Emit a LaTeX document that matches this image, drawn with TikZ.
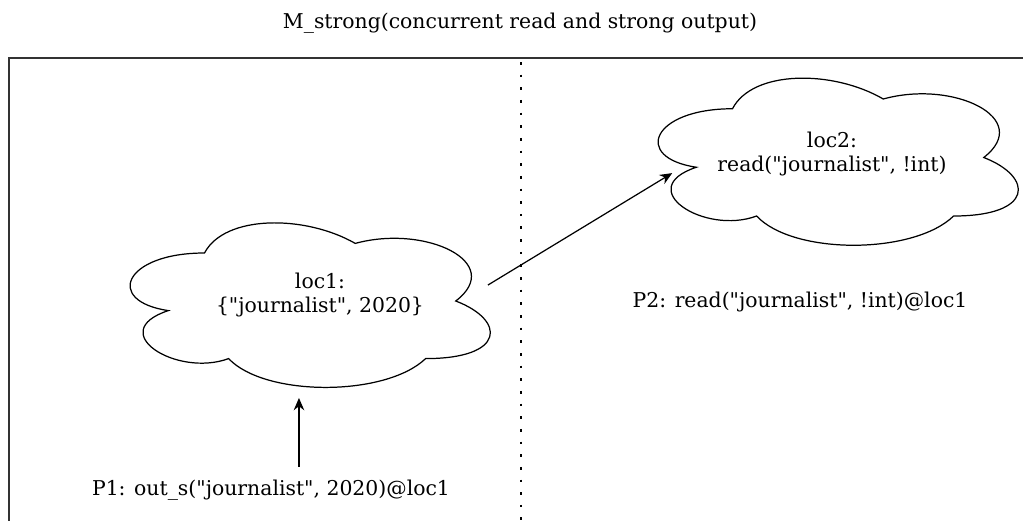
\documentclass[tikz,border=0pt]{standalone}
\usepackage{fontspec}
\setmainfont{DejaVu Serif}
\usetikzlibrary{arrows.meta}
\newcommand{\qt}{\textquotedbl}

\tikzset{
  cloudy/.pic={
    \draw[line width=0.7pt] (0.25,0.25) .. controls (0.05,0.25) and (0,0.5) .. (0.16,0.55)
      .. controls (0,0.66) and (0.18,0.9) .. (0.31,0.8)
      .. controls (0.4,1) and (0.7,1) .. (0.8,0.8)
      .. controls (1,0.8) and (1,0.6) .. (0.875,0.5)
      .. controls (1,0.3) and (0.8,0.1) .. (0.625,0.2)
      .. controls (0.5,0.05) and (0.3,0.05) .. (0.25,0.25) -- cycle;
    \coordinate (-out) at (0.955,0.417);
    \coordinate (-in) at (0.10,0.58);
    \coordinate (-foot) at (0.485,1.005);
  }
}

\begin{document}
\begin{tikzpicture}[
    lbl/.style={align=center, font=\fontsize{11.6}{13.9}\selectfont, inner sep=0pt},
    arr/.style={-{Stealth[length=7pt,width=6pt]}, line width=0.7pt},
    divider/.style={line width=1.5pt, dash pattern=on 1.5pt off 5.7pt}
]
\useasboundingbox (0,0) rectangle (20.46,-10.42);
\clip (0,0) rectangle (20.46,-10.42);

% title
\node[lbl] (title) at (10.4,-0.47) {M\_strong(concurrent read and strong output)};

% frame and divider
\draw[line width=1pt, black!80] (0.18,-1.16) rectangle (21,-11);
\coordinate (divtop) at (10.42,-1.24);
\coordinate (divbot) at (10.42,-10.6);
\draw[divider] (divtop) -- (divbot);

% locations
\pic[x=8.04cm, y=-3.84cm] (c1) at (2.08cm,-4.1cm) {cloudy};
\node[lbl] (loc1) at (6.4,-5.9) {loc1:\\\{\qt journalist\qt, 2020\}};
\pic[x=8.04cm, y=-3.9cm] (c2) at (12.64cm,-1.2cm) {cloudy};
\node[lbl] (loc2) at (16.64,-3.08) {loc2:\\read(\qt journalist\qt, !int)};

% processes
\node[lbl] (p1) at (5.42,-9.8) {P1: out\_s(\qt journalist\qt, 2020)@loc1};
\node[lbl] (p2) at (16.0,-6.04) {P2: read(\qt journalist\qt, !int)@loc1};

\draw[arr] (c1-out) -- (c2-in);
\draw[arr, shorten <=0.26cm] (p1.north -| c1-foot) -- (c1-foot);
\end{tikzpicture}
\end{document}
